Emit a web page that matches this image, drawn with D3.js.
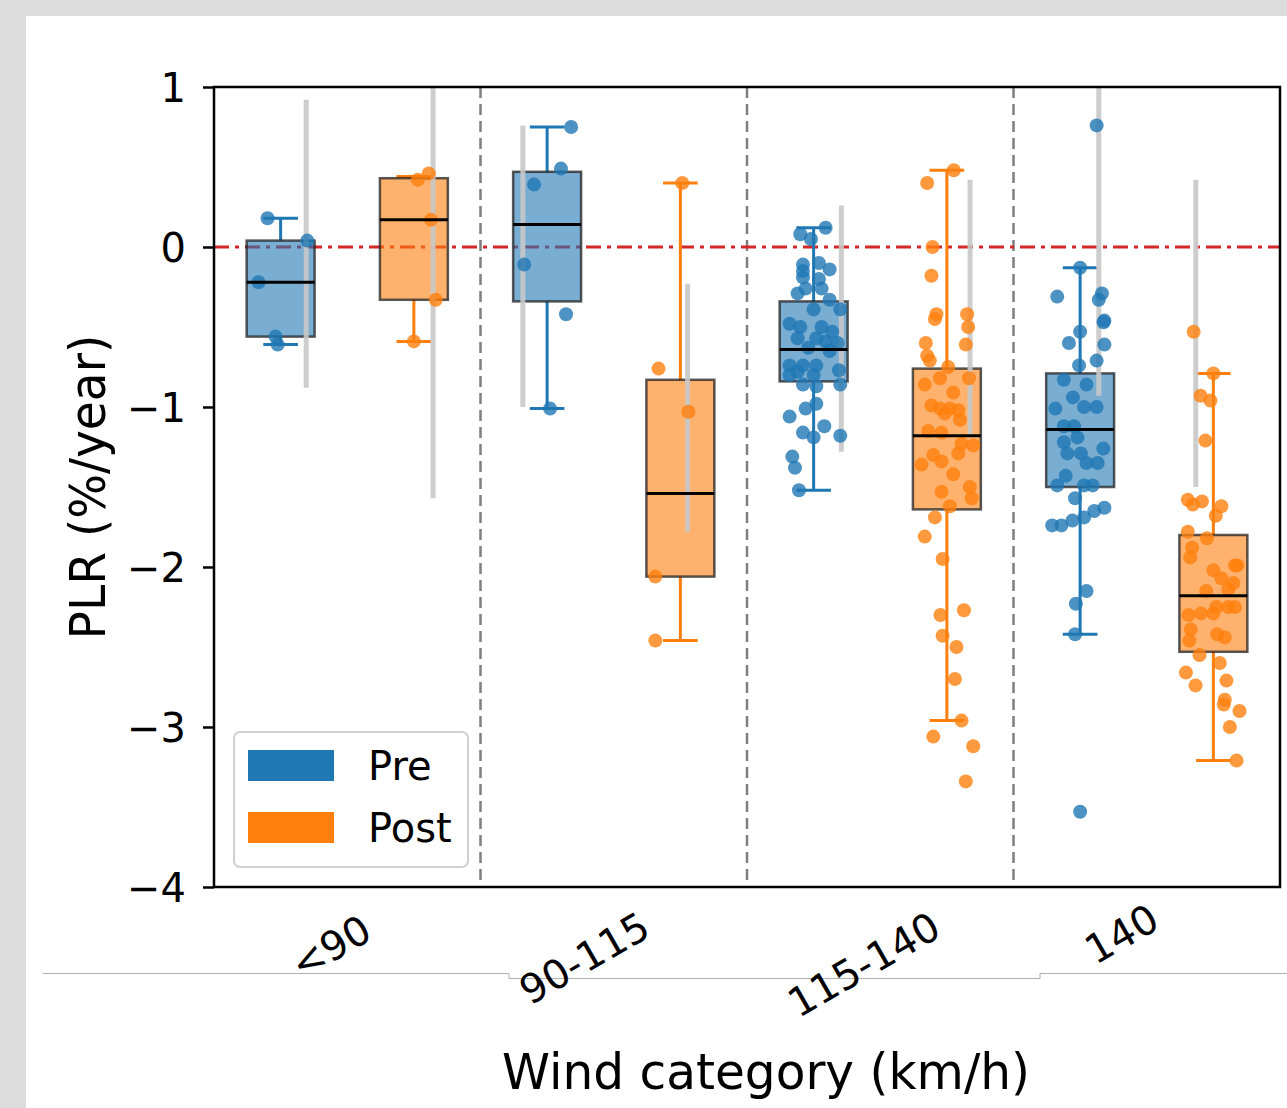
<!DOCTYPE html>
<html lang="en">

<head>
    <meta charset="UTF-8">
    <title>PLR by wind category</title>
    <script src="https://d3js.org/d3.v7.min.js"></script>
    <style>
        body { margin: 0; background: #ffffff; }
        text { font-family: "DejaVu Sans", sans-serif; fill: #000; }
    </style>
</head>

<body>
    <script>
        // ---- data ----
        var categories = ["<90", "90-115", "115-140", "140"];
        var groups = ["Pre", "Post"];
        var yTicks = [1, 0, -1, -2, -3, -4];

        // box stats per category: [whiskerLow, q1, median, q3, whiskerHigh]
        var preStats = [
            [-0.61, -0.56, -0.22, 0.04, 0.18],
            [-1.01, -0.34, 0.14, 0.47, 0.75],
            [-1.52, -0.84, -0.64, -0.34, 0.12],
            [-2.42, -1.50, -1.14, -0.79, -0.13]
        ];
        var postStats = [
            [-0.59, -0.33, 0.17, 0.43, 0.44],
            [-2.46, -2.06, -1.54, -0.83, 0.40],
            [-2.96, -1.64, -1.18, -0.76, 0.48],
            [-3.21, -2.53, -2.18, -1.80, -0.79]
        ];

        // scatter points: [value, jitter (x units from box centre)]
        var prePoints = [
            [[0.18, -0.049], [0.04, 0.10], [-0.22, -0.083], [-0.56, -0.019], [-0.61, -0.011]],
            [[0.75, 0.09], [0.49, 0.052], [0.39, -0.049], [-0.11, -0.086], [-0.42, 0.071], [-1.01, 0.011]],
            [[0.12, 0.045], [0.08, -0.05], [0.05, -0.01], [-0.11, -0.04], [-0.10, 0.02], [-0.14, 0.06],
             [-0.15, -0.04], [-0.19, -0.04], [-0.20, 0.02], [-0.29, -0.06], [-0.26, -0.03], [-0.26, 0.03],
             [-0.33, 0.06], [-0.39, 0.10], [-0.39, 0.0], [-0.48, -0.09], [-0.50, -0.05], [-0.50, 0.03],
             [-0.53, 0.07], [-0.57, 0.01], [-0.57, -0.06], [-0.59, 0.045], [-0.60, 0.09], [-0.63, -0.02],
             [-0.65, 0.06], [-0.74, -0.09], [-0.74, -0.04], [-0.74, 0.01], [-0.78, -0.06], [-0.77, 0.095],
             [-0.80, -0.09], [-0.80, 0.0], [-0.87, 0.01], [-0.86, -0.04], [-0.86, 0.10], [-1.01, -0.03],
             [-0.98, 0.01], [-1.06, -0.09], [-1.12, 0.04], [-1.16, -0.04], [-1.19, 0.0], [-1.18, 0.10],
             [-1.31, -0.08], [-1.38, -0.07], [-1.52, -0.055]],
            [[0.76, 0.062], [-0.13, 0.0], [-0.31, -0.086], [-0.29, 0.082], [-0.33, 0.07], [-0.46, 0.091],
             [-0.47, 0.088], [-0.53, 0.0], [-0.60, -0.042], [-0.61, 0.091], [-0.74, -0.004], [-0.71, 0.062],
             [-0.83, -0.061], [-0.86, 0.024], [-0.94, -0.027], [-1.01, -0.093], [-1.00, 0.015], [-1.00, 0.062],
             [-1.12, -0.061], [-1.12, -0.023], [-1.22, -0.061], [-1.19, -0.01], [-1.29, -0.048], [-1.26, 0.087],
             [-1.29, 0.003], [-1.35, 0.024], [-1.35, 0.066], [-1.43, -0.054], [-1.49, -0.086], [-1.49, 0.015],
             [-1.49, 0.047], [-1.57, -0.019], [-1.65, 0.053], [-1.63, 0.091], [-1.69, 0.015], [-1.71, -0.029],
             [-1.74, -0.105], [-1.74, -0.07], [-2.15, 0.024], [-2.23, -0.016], [-2.42, -0.019], [-3.53, 0.0]]
        ];
        var postPoints = [
            [[0.42, 0.015], [0.46, 0.056], [0.17, 0.064], [-0.33, 0.082], [-0.59, 0.0]],
            [[0.40, 0.007], [-0.76, -0.082], [-1.03, 0.03], [-2.06, -0.094], [-2.46, -0.094]],
            [[0.48, 0.026], [0.40, -0.074], [0.00, -0.054], [-0.18, -0.058], [-0.42, -0.039], [-0.45, -0.045],
             [-0.42, 0.076], [-0.50, 0.08], [-0.61, 0.071], [-0.60, -0.079], [-0.68, -0.074], [-0.71, -0.064],
             [-0.75, 0.005], [-0.86, -0.083], [-0.82, -0.026], [-0.82, 0.083], [-0.91, 0.024], [-0.99, -0.058],
             [-1.01, -0.026], [-1.01, 0.011], [-1.02, 0.043], [-1.04, -0.008], [-1.08, 0.049], [-1.15, -0.07],
             [-1.16, -0.02], [-1.24, 0.099], [-1.23, 0.055], [-1.30, -0.051], [-1.34, -0.02], [-1.29, 0.043],
             [-1.36, -0.095], [-1.42, 0.024], [-1.50, 0.086], [-1.57, 0.093], [-1.53, -0.02], [-1.62, 0.011],
             [-1.69, -0.045], [-1.81, -0.083], [-1.95, -0.016], [-2.30, -0.024], [-2.27, 0.064], [-2.43, -0.016],
             [-2.50, 0.036], [-2.70, 0.03], [-2.96, 0.055], [-3.06, -0.051], [-3.12, 0.099], [-3.34, 0.071]],
            [[-0.53, -0.074], [-0.79, 0.0], [-0.93, -0.048], [-0.96, -0.011], [-1.21, -0.03], [-1.58, -0.096],
             [-1.61, -0.077], [-1.59, -0.043], [-1.62, 0.03], [-1.68, 0.009], [-1.78, -0.096], [-1.82, -0.024],
             [-1.88, -0.08], [-1.94, -0.087], [-1.99, 0.081], [-1.99, 0.09], [-2.02, 0.0], [-2.07, 0.03],
             [-2.10, 0.075], [-2.15, -0.027], [-2.14, 0.056], [-2.25, 0.011], [-2.25, 0.081], [-2.25, 0.056],
             [-2.30, -0.093], [-2.29, -0.046], [-2.29, 0.0], [-2.39, -0.085], [-2.42, 0.014], [-2.44, 0.043],
             [-2.46, -0.09], [-2.55, -0.052], [-2.60, 0.024], [-2.66, -0.103], [-2.74, -0.067], [-2.71, 0.049],
             [-2.83, 0.043], [-2.86, 0.039], [-2.90, 0.098], [-3.00, 0.062], [-3.21, 0.087]]
        ];

        // light grey range bars: [x position, low, high]
        var greyBars = [
            [-0.154, -0.88, 0.92], [0.322, -1.57, 1.1],
            [0.659, -1.00, 0.76], [1.277, -1.78, -0.23],
            [1.854, -1.28, 0.26], [2.337, -1.18, 0.42],
            [2.82, -0.93, 1.1], [3.184, -1.50, 0.42]
        ];

        // rotated tick label placement (end of text) relative to category centre
        var labelDx = [27, 39, 63, 15];
        var labelY = [938, 935, 935, 927];

        var colors = { Pre: "#1f77b4", Post: "#ff7f0e" };

        // ---- canvas ----
        var W = 1287, H = 1108;
        var svg = d3.select("body").append("svg")
            .attr("width", W)
            .attr("height", H);

        // screenshot frame around the figure
        svg.append("rect").attr("x", 0).attr("y", 0).attr("width", W).attr("height", 16).attr("fill", "#dcdcdc");
        svg.append("rect").attr("x", 0).attr("y", 0).attr("width", 26).attr("height", H).attr("fill", "#dcdcdc");
        svg.append("path")
            .attr("d", "M43,973.5H509V978.5H1040V973.5H1287")
            .attr("fill", "none")
            .attr("stroke", "#b0b0b0")
            .attr("stroke-width", 1);

        var x = d3.scaleLinear().domain([-0.5, 3.5]).range([214, 1280]);
        var y = d3.scaleLinear().domain([-4, 1]).range([887, 87]);

        var boxW = 0.255, capW = 0.13;

        svg.append("clipPath").attr("id", "plotClip")
            .append("rect")
            .attr("x", x(-0.5)).attr("y", y(1))
            .attr("width", x(3.5) - x(-0.5)).attr("height", y(-4) - y(1));

        var plot = svg.append("g").attr("clip-path", "url(#plotClip)");

        // category separators
        plot.selectAll(".sep")
            .data([0.5, 1.5, 2.5])
            .enter().append("line")
            .attr("x1", d => x(d)).attr("x2", d => x(d))
            .attr("y1", y(1)).attr("y2", y(-4))
            .attr("stroke", "#7f7f7f")
            .attr("stroke-width", 2.5)
            .attr("stroke-dasharray", "11,6");

        // zero reference
        plot.append("line")
            .attr("x1", x(-0.5)).attr("x2", x(3.5))
            .attr("y1", y(0)).attr("y2", y(0))
            .attr("stroke", "#d62728")
            .attr("stroke-width", 3.2)
            .attr("stroke-dasharray", "15,6,4,6");

        function drawGroup(stats, points, offset, color) {
            stats.forEach(function (s, i) {
                var cx = i + offset;
                // whiskers + caps
                plot.append("line")
                    .attr("x1", x(cx)).attr("x2", x(cx))
                    .attr("y1", y(s[0])).attr("y2", y(s[1]))
                    .attr("stroke", color).attr("stroke-width", 3);
                plot.append("line")
                    .attr("x1", x(cx)).attr("x2", x(cx))
                    .attr("y1", y(s[3])).attr("y2", y(s[4]))
                    .attr("stroke", color).attr("stroke-width", 3);
                [s[0], s[4]].forEach(function (v) {
                    plot.append("line")
                        .attr("x1", x(cx - capW / 2)).attr("x2", x(cx + capW / 2))
                        .attr("y1", y(v)).attr("y2", y(v))
                        .attr("stroke", color).attr("stroke-width", 3);
                });
                // box
                plot.append("rect")
                    .attr("x", x(cx - boxW / 2))
                    .attr("y", y(s[3]))
                    .attr("width", x(cx + boxW / 2) - x(cx - boxW / 2))
                    .attr("height", y(s[1]) - y(s[3]))
                    .attr("fill", color)
                    .attr("fill-opacity", 0.6)
                    .attr("stroke", "#222")
                    .attr("stroke-opacity", 0.75)
                    .attr("stroke-width", 2.5);
            });
        }

        function drawPoints(stats, points, offset, color) {
            points.forEach(function (pts, i) {
                var cx = i + offset;
                plot.selectAll(null)
                    .data(pts)
                    .enter().append("circle")
                    .attr("cx", d => x(cx + d[1]))
                    .attr("cy", d => y(d[0]))
                    .attr("r", 7)
                    .attr("fill", color)
                    .attr("fill-opacity", 0.8);
            });
            // medians on top
            stats.forEach(function (s, i) {
                var cx = i + offset;
                plot.append("line")
                    .attr("x1", x(cx - boxW / 2)).attr("x2", x(cx + boxW / 2))
                    .attr("y1", y(s[2])).attr("y2", y(s[2]))
                    .attr("stroke", "#000").attr("stroke-width", 3);
            });
        }

        drawGroup(preStats, prePoints, -0.25, colors.Pre);
        drawGroup(postStats, postPoints, 0.25, colors.Post);

        // grey range bars
        plot.selectAll(".grey")
            .data(greyBars)
            .enter().append("line")
            .attr("x1", d => x(d[0])).attr("x2", d => x(d[0]))
            .attr("y1", d => y(d[1])).attr("y2", d => y(d[2]))
            .attr("stroke", "#c8c8c8")
            .attr("stroke-opacity", 0.9)
            .attr("stroke-width", 5);

        drawPoints(preStats, prePoints, -0.25, colors.Pre);
        drawPoints(postStats, postPoints, 0.25, colors.Post);

        // frame
        svg.append("rect")
            .attr("x", x(-0.5)).attr("y", y(1))
            .attr("width", x(3.5) - x(-0.5)).attr("height", y(-4) - y(1))
            .attr("fill", "none")
            .attr("stroke", "#000")
            .attr("stroke-width", 2.5);

        // y axis
        var yAxis = svg.append("g")
            .attr("transform", "translate(" + x(-0.5) + ",0)")
            .call(d3.axisLeft(y).tickValues(yTicks).tickSize(11).tickPadding(17)
                .tickFormat(d => d < 0 ? "\u2212" + Math.abs(d) : d));
        yAxis.select(".domain").remove();
        yAxis.selectAll("line").attr("stroke", "#000").attr("stroke-width", 2.5);
        yAxis.selectAll("text")
            .style("font-family", "DejaVu Sans, sans-serif")
            .style("font-size", "40px")
            .attr("dy", "0.36em");

        // x tick labels (rotated)
        svg.selectAll(".xlab")
            .data(categories)
            .enter().append("text")
            .attr("text-anchor", "end")
            .attr("transform", (d, i) => "translate(" + (x(i) + labelDx[i]) + "," + labelY[i] + ") rotate(-30)")
            .style("font-size", "40px")
            .text(d => d);

        // axis titles
        svg.append("text")
            .attr("transform", "translate(105,487) rotate(-90)")
            .attr("text-anchor", "middle")
            .attr("textLength", 305)
            .attr("lengthAdjust", "spacingAndGlyphs")
            .style("font-size", "49px")
            .text("PLR (%/year)");

        svg.append("text")
            .attr("x", 766)
            .attr("y", 1089)
            .attr("text-anchor", "middle")
            .attr("textLength", 528)
            .attr("lengthAdjust", "spacingAndGlyphs")
            .style("font-size", "50px")
            .text("Wind category (km/h)");

        // legend
        var legend = svg.append("g");
        legend.append("rect")
            .attr("x", 234).attr("y", 732)
            .attr("width", 234).attr("height", 135)
            .attr("rx", 6)
            .attr("fill", "#fff").attr("fill-opacity", 0.85)
            .attr("stroke", "#d0d0d0").attr("stroke-width", 2);
        groups.forEach(function (g, i) {
            legend.append("rect")
                .attr("x", 248).attr("y", 750 + i * 62)
                .attr("width", 86).attr("height", 31)
                .attr("fill", colors[g]);
            legend.append("text")
                .attr("x", 368).attr("y", 780 + i * 62)
                .style("font-size", "40px")
                .text(g);
        });
    </script>
</body>

</html>
